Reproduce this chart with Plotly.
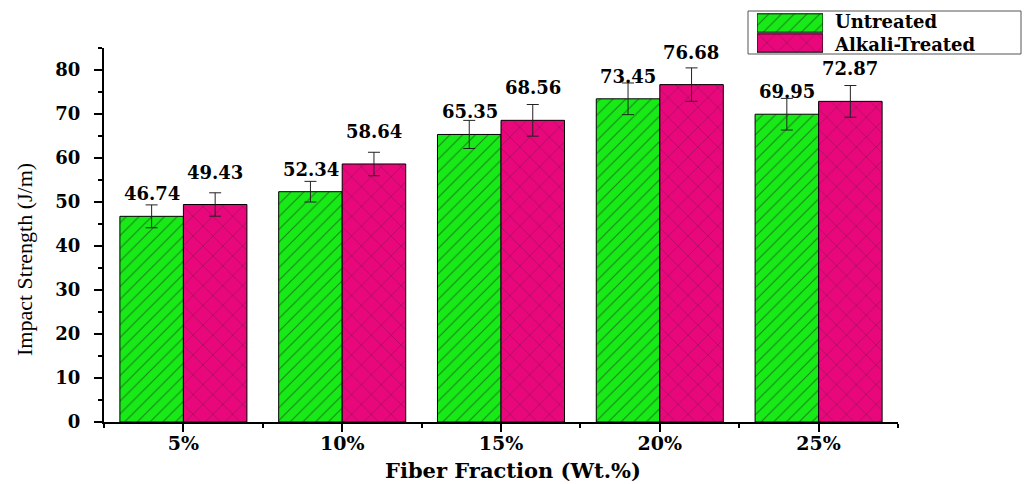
import plotly.graph_objects as go

# Impact strength of fibre composites vs fibre weight fraction
categories = ["5%", "10%", "15%", "20%", "25%"]
untreated = [46.74, 52.34, 65.35, 73.45, 69.95]
alkali_treated = [49.43, 58.64, 68.56, 76.68, 72.87]
untreated_err = [2.6, 2.35, 3.2, 3.6, 3.6]
alkali_err = [2.66, 2.66, 3.6, 3.8, 3.6]
series_names = ["Untreated", "Alkali-Treated"]

GREEN = "#18ea18"
PINK = "#e8087c"
positions = list(range(len(categories)))

# Page layout (pixels)
W, H = 1024, 484
ML, MR, MT, MB = 104, 0, 8, 62
PW, PH = W - ML - MR, H - MT - MB


def px_x(p):
    return (p - ML) / PW


def px_y(p):
    return (H - MB - p) / PH


green_pattern = dict(shape="/", bgcolor=GREEN, fgcolor="#1a1a1a", size=9, solidity=0.12)
pink_pattern = dict(shape="x", bgcolor=PINK, fgcolor="#1a1a1a", size=14, solidity=0.07)

fig = go.Figure()
fig.add_trace(go.Bar(
    x=positions, y=untreated, name=series_names[0],
    marker=dict(color=GREEN, pattern=green_pattern, line=dict(color="black", width=1)),
    error_y=dict(type="data", array=untreated_err, color="#222", thickness=1, width=6),
    showlegend=False,
))
fig.add_trace(go.Bar(
    x=positions, y=alkali_treated, name=series_names[1],
    marker=dict(color=PINK, pattern=pink_pattern, line=dict(color="black", width=1)),
    error_y=dict(type="data", array=alkali_err, color="#222", thickness=1, width=6),
    showlegend=False,
))

# Legend swatches drawn as bars on a small auxiliary axis
fig.add_trace(go.Bar(
    x=[1], y=[1], orientation="h", xaxis="x2", yaxis="y2", width=0.92,
    marker=dict(color=GREEN, pattern=green_pattern, line=dict(color="black", width=1)),
    showlegend=False, hoverinfo="skip",
))
fig.add_trace(go.Bar(
    x=[1], y=[0], orientation="h", xaxis="x2", yaxis="y2", width=0.92,
    marker=dict(color=PINK, pattern=pink_pattern, line=dict(color="black", width=1)),
    showlegend=False, hoverinfo="skip",
))

label_font = dict(family="DejaVu Serif", size=18, color="black", weight="bold")
annotations = []
for i, (u, a) in enumerate(zip(untreated, alkali_treated)):
    annotations.append(dict(x=i, y=u, xref="x", yref="y", text=f"{u:.2f}",
                            showarrow=False, xshift=-31.5, yshift=10, yanchor="bottom",
                            font=label_font))
    annotations.append(dict(x=i, y=a, xref="x", yref="y", text=f"{a:.2f}",
                            showarrow=False, xshift=31.5, yshift=20, yanchor="bottom",
                            font=label_font))

# Axis titles
annotations.append(dict(x=px_x(24), y=px_y(260), xref="paper", yref="paper",
                        text="Impact Strength (J/m)", textangle=-90, showarrow=False,
                        xanchor="center", yanchor="middle",
                        font=dict(family="Liberation Serif", size=22, color="black")))
annotations.append(dict(x=px_x(513), y=px_y(470), xref="paper", yref="paper",
                        text="Fiber Fraction (Wt.%)", showarrow=False,
                        xanchor="center", yanchor="middle",
                        font=dict(family="DejaVu Serif", size=21, color="black", weight="bold")))

# Legend labels
legend_font = dict(family="DejaVu Serif", size=18, color="black", weight="bold")
annotations.append(dict(x=px_x(832), y=px_y(32.5), xref="paper", yref="paper",
                        text="<br>".join(series_names), showarrow=False,
                        xanchor="left", yanchor="middle", align="left",
                        font=legend_font))

shapes = [dict(type="rect", xref="paper", yref="paper",
               x0=px_x(748), x1=px_x(1021), y0=px_y(54), y1=px_y(11),
               line=dict(color="#555", width=1), fillcolor="rgba(0,0,0,0)")]

tick_font = dict(family="DejaVu Serif", size=18, color="black", weight="bold")

fig.update_layout(
    width=W, height=H,
    margin=dict(l=ML, r=MR, t=MT, b=MB),
    paper_bgcolor="white", plot_bgcolor="white",
    barmode="group", bargap=0.2, bargroupgap=0,
    annotations=annotations, shapes=shapes,
    xaxis=dict(
        domain=[0, px_x(898)], range=[-0.5, 4.5],
        tickvals=positions, ticktext=categories,
        ticks="outside", ticklen=8, tickwidth=1.5, tickcolor="black",
        minor=dict(tick0=0.5, dtick=1, ticks="outside", ticklen=4, tickcolor="black", tickwidth=1.5),
        showline=True, linecolor="black", linewidth=2,
        showgrid=False, zeroline=False, tickfont=dict(tick_font, size=19),
        ticklabelstandoff=-5,
    ),
    yaxis=dict(
        domain=[0, px_y(48)], range=[0, 85], dtick=10,
        ticks="outside", ticklen=8, tickwidth=1.5, tickcolor="black",
        minor=dict(dtick=5, ticks="outside", ticklen=4, tickcolor="black", tickwidth=1.5),
        showline=True, linecolor="black", linewidth=2,
        showgrid=False, zeroline=False, tickfont=tick_font, ticklabelstandoff=10,
    ),
    xaxis2=dict(domain=[px_x(757), px_x(823)], range=[0, 1], anchor="y2",
                visible=False, fixedrange=True),
    yaxis2=dict(domain=[px_y(53), px_y(13)], range=[-0.5, 1.5], anchor="x2",
                visible=False, fixedrange=True),
)

fig.write_html("out.html")
